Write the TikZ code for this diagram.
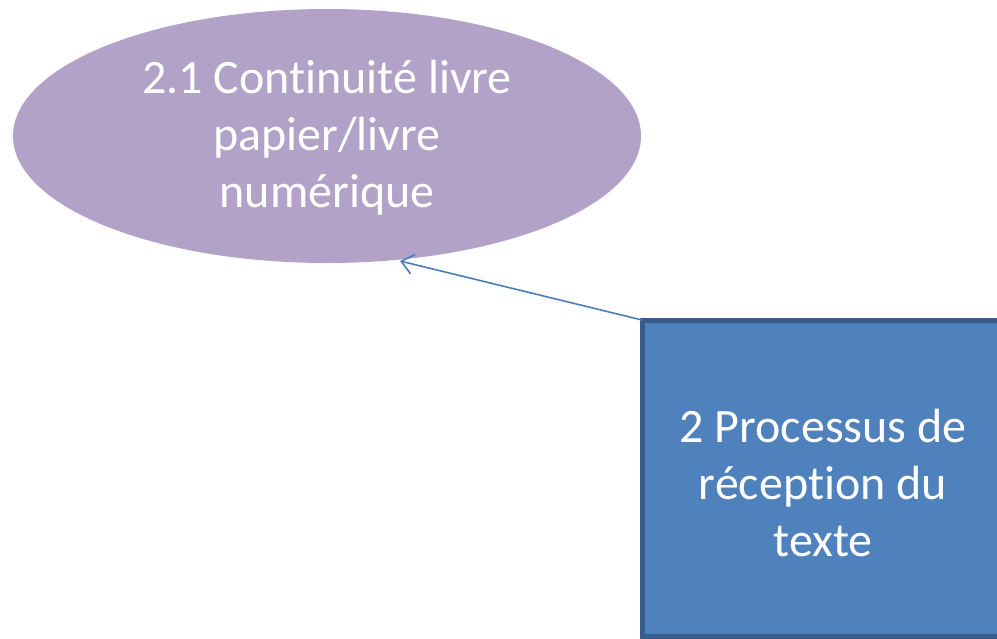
\documentclass[tikz,border=0pt]{standalone}
\usepackage{fontspec}
\setmainfont[Ligatures=NoCommon]{Carlito}
\usetikzlibrary{shapes.geometric,arrows.meta}
\definecolor{ellfill}{RGB}{178,162,199}
\definecolor{boxfill}{RGB}{79,129,189}
\definecolor{boxline}{RGB}{56,93,138}
\definecolor{arrowc}{RGB}{74,126,187}
\tikzset{
  lbl/.style={text=white,font=\fontsize{48}{57}\selectfont,align=center},
  ell/.style={ellipse,fill=ellfill,minimum width=628pt,minimum height=254pt,inner sep=0pt},
  boxn/.style={rectangle,fill=boxfill,draw=boxline,line width=5pt,minimum width=362pt,minimum height=316pt,inner sep=0pt},
  conn/.style={draw=arrowc,line width=1.6pt,-{Straight Barb[length=12pt,width=20pt]}}
}
\begin{document}
\begin{tikzpicture}[x=1pt,y=-1pt]
\useasboundingbox (0,0) rectangle (997,638);
\begin{scope}
\clip (0,0) rectangle (997,638);
\node[ell] (e) at (327,136) {};
\node[boxn] (r) at (823.5,478) {};
\end{scope}
\node[lbl] (et) at (327,138) {2.1 Continuité livre\\papier/livre\\numérique};
\node[lbl] (rt) at (823,483) {2 Processus de\\réception du\\texte};
\coordinate (tip) at (400,261);
\coordinate (start) at (642,320);
\draw[conn] (start) -- (tip);
\end{tikzpicture}
\end{document}
